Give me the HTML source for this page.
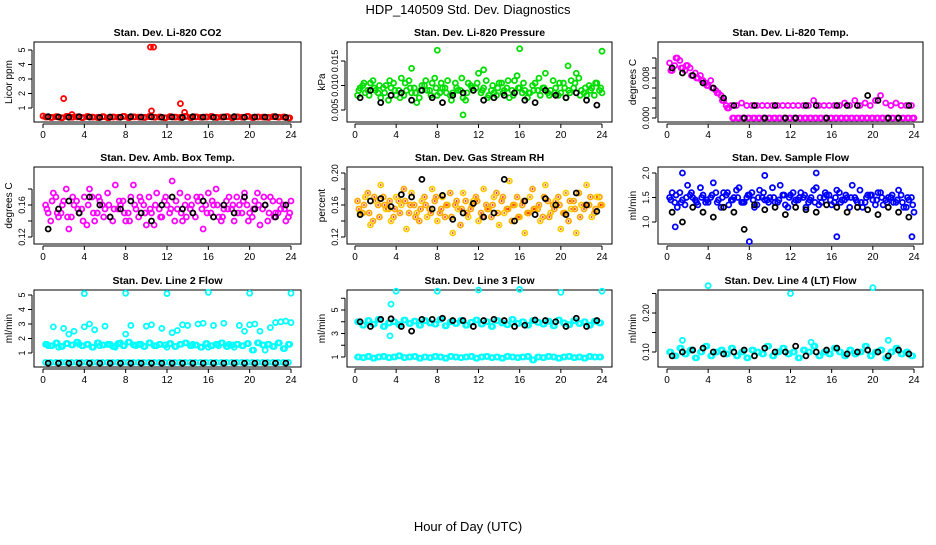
<!DOCTYPE html>
<html><head><meta charset="utf-8"><style>
body{margin:0;background:#fff}
svg text{font-family:"Liberation Sans",Arial,sans-serif}
</style></head><body>
<svg id="chart" width="936" height="540" xmlns="http://www.w3.org/2000/svg">
<rect width="936" height="540" fill="#fff"/>
<text x="468" y="14" font-size="13" text-anchor="middle">HDP_140509  Std. Dev. Diagnostics</text>
<text x="468" y="531" font-size="13" text-anchor="middle">Hour of Day (UTC)</text>
<g id="panels"></g>
</svg>
<script>
// ---- data ----
const xTicks=[0,4,8,12,16,20,24];
const co2Main=[0.38,0.35,0.4,0.33,0.42,0.36,0.39,0.34,0.41,0.37,0.35,0.4,0.33,0.38,0.36,0.42,0.34,0.39,0.37,0.35,0.41,0.36,0.38,0.33,0.4,0.37,0.35,0.42,0.34,0.39,0.36,0.38,0.41,0.35,0.37,0.4,0.33,0.39,0.36,0.42,0.34,0.38,0.37,0.35,0.4,0.36,0.38,0.32];
const co2OutX=[10.4,10.7,2,13.3,10.5,13.7,0,2.8];
const co2OutY=[5.2,5.2,1.65,1.3,0.8,0.7,0.45,0.55];
const co2Black=[0.4,0.38,0.36,0.4,0.37,0.35,0.38,0.36,0.4,0.37,0.39,0.36,0.38,0.35,0.4,0.37,0.36,0.38,0.4,0.36,0.38,0.37,0.4,0.35];
const presA=[0.008,0.010,0.009,0.011,0.0085,0.0095,0.007,0.0105,0.009,0.008,0.011,0.0095,0.0075,0.01,0.009,0.0115,0.0085,0.0095,0.008,0.0105,0.009,0.007,0.01,0.0095,0.0085,0.011,0.009,0.008,0.0105,0.0095,0.009,0.012,0.0085,0.0075,0.01,0.009,0.0095,0.0085,0.011,0.008,0.0105,0.009,0.0095,0.0115,0.0085,0.01,0.008,0.009];
const presB=[0.0095,0.0085,0.0105,0.009,0.0075,0.01,0.0095,0.008,0.0115,0.009,0.0085,0.0065,0.01,0.009,0.0105,0.008,0.0095,0.011,0.0085,0.009,0.0075,0.0105,0.009,0.0125,0.0095,0.008,0.0085,0.0105,0.009,0.0075,0.011,0.0095,0.009,0.0085,0.0105,0.008,0.0125,0.009,0.0095,0.0085,0.0075,0.011,0.0125,0.009,0.008,0.0095,0.0105,0.0085];
const presC=[0.009,0.0105,0.008,0.0095,0.01,0.0085,0.011,0.009,0.0075,0.0105,0.0095,0.0085,0.009,0.011,0.008,0.0095,0.0105,0.0085,0.007,0.0095,0.0115,0.0085,0.0095,0.0105,0.009,0.0075,0.01,0.0095,0.0085,0.011,0.008,0.0095,0.0105,0.0085,0.009,0.0115,0.0095,0.008,0.0085,0.0105,0.0095,0.0085,0.0105,0.008,0.0095,0.009,0.0105,0.0095];
const presOutX=[8,16,24,5.5,12.5,20.7,10.5];
const presOutY=[0.0172,0.0175,0.017,0.0135,0.0132,0.014,0.004];
const presBlack=[0.0075,0.009,0.0065,0.008,0.0085,0.007,0.009,0.0075,0.0065,0.008,0.0085,0.009,0.007,0.0075,0.008,0.0085,0.007,0.0065,0.009,0.008,0.0075,0.0085,0.007,0.006];
const tempA=[0.011,0.0105,0.0115,0.0095,0.01,0.009,0.0085,0.007,0.0075,0.0055,0.0045,0.0025,0.0025,0.0025,0.003,0.0025,0.0025,0.0025,0.0025,0.0025,0.0025,0.0025,0.0025,0.0025,0.0025,0.0025,0.0025,0.0025,0.0035,0.0025,0.0025,0.0025,0.0025,0.0025,0.003,0.0025,0.0035,0.0025,0.003,0.0025,0.0035,0.0045,0.003,0.0025,0.003,0.0025,0.0025,0.0025];
const tempB=[0.0095,0.012,0.01,0.0105,0.0085,0.008,0.0075,0.0065,0.006,0.005,0.0035,0.002,0,0,0,0,0,0,0,0,0,0,0,0,0,0,0,0,0,0,0,0,0,0,0,0,0,0,0,0,0,0,0,0,0,0,0,0];
const tempBlack=[0.01,0.009,0.0085,0.007,0.006,0.004,0.0025,0,0.0025,0,0.0025,0,0,0.0025,0.0025,0,0.0025,0.0025,0.0025,0.0045,0.0035,0,0,0.0025];
const ambA=[0.16,0.14,0.17,0.15,0.18,0.145,0.165,0.155,0.135,0.17,0.15,0.16,0.175,0.14,0.155,0.165,0.15,0.185,0.145,0.16,0.17,0.135,0.155,0.165,0.15,0.14,0.175,0.16,0.155,0.145,0.17,0.16,0.15,0.18,0.14,0.165,0.155,0.17,0.15,0.16,0.145,0.175,0.155,0.14,0.165,0.15,0.16,0.145];
const ambB=[0.15,0.175,0.145,0.165,0.13,0.16,0.15,0.17,0.18,0.14,0.165,0.155,0.145,0.185,0.16,0.14,0.17,0.155,0.165,0.135,0.15,0.175,0.145,0.16,0.19,0.155,0.14,0.17,0.15,0.165,0.13,0.175,0.16,0.145,0.155,0.17,0.14,0.16,0.175,0.15,0.165,0.135,0.16,0.17,0.15,0.155,0.14,0.165];
const ambC=[0.155,0.165,0.15,0.16,0.145,0.17,0.155,0.14,0.16,0.15,0.17,0.145,0.16,0.155,0.165,0.15,0.14,0.16,0.17,0.15,0.155,0.16,0.145,0.17,0.155,0.165,0.15,0.145,0.16,0.17,0.155,0.15,0.165,0.16,0.145,0.155,0.16,0.15,0.165,0.14,0.155,0.16,0.17,0.15,0.145,0.165,0.155,0.15];
const ambBlack=[0.13,0.155,0.165,0.15,0.17,0.16,0.145,0.155,0.165,0.15,0.14,0.16,0.17,0.155,0.15,0.165,0.145,0.16,0.15,0.17,0.155,0.16,0.145,0.16];
const rhA=[0.165,0.15,0.175,0.14,0.16,0.17,0.155,0.145,0.165,0.18,0.15,0.16,0.14,0.17,0.155,0.165,0.15,0.145,0.175,0.16,0.135,0.165,0.155,0.17,0.15,0.16,0.145,0.175,0.165,0.155,0.14,0.17,0.16,0.15,0.18,0.155,0.145,0.165,0.16,0.17,0.15,0.14,0.165,0.175,0.155,0.16,0.15,0.17];
const rhB=[0.15,0.17,0.135,0.165,0.185,0.155,0.14,0.17,0.16,0.13,0.175,0.15,0.165,0.145,0.18,0.14,0.17,0.16,0.125,0.155,0.175,0.145,0.165,0.14,0.18,0.155,0.17,0.135,0.15,0.19,0.16,0.145,0.125,0.17,0.155,0.14,0.185,0.15,0.165,0.13,0.175,0.155,0.125,0.16,0.185,0.145,0.17,0.16];
const rhC=[0.155,0.16,0.15,0.17,0.145,0.16,0.165,0.155,0.15,0.165,0.16,0.145,0.155,0.16,0.15,0.17,0.155,0.16,0.145,0.165,0.155,0.15,0.16,0.165,0.145,0.155,0.16,0.15,0.17,0.155,0.16,0.145,0.165,0.15,0.155,0.16,0.17,0.145,0.155,0.16,0.15,0.165,0.155,0.145,0.16,0.17,0.155,0.16];
const rhBlack=[0.148,0.165,0.168,0.158,0.173,0.17,0.192,0.155,0.172,0.142,0.15,0.162,0.145,0.15,0.192,0.14,0.165,0.148,0.168,0.16,0.148,0.175,0.16,0.152];
const flowA=[1.5,1.4,1.6,1.35,1.55,1.45,1.7,1.4,1.5,1.6,1.3,1.55,1.45,1.65,1.4,1.5,1.6,1.35,1.5,1.45,1.7,1.4,1.55,1.3,1.6,1.45,1.5,1.4,1.65,1.35,1.5,1.55,1.4,1.6,1.45,1.3,1.5,1.65,1.4,1.55,1.35,1.6,1.45,1.5,1.4,1.55,1.3,1.5];
const flowB=[1.6,1.3,1.45,1.75,1.5,1.35,1.55,1.4,1.8,1.45,1.6,1.35,1.5,1.7,1.4,1.55,1.3,1.65,1.45,1.5,1.4,1.75,1.35,1.55,1.45,1.6,1.3,1.5,1.7,1.4,1.55,1.35,1.65,1.45,1.5,1.75,1.4,1.3,1.55,1.45,1.6,1.35,1.5,1.4,1.65,1.3,1.45,1.2];
const flowC=[1.45,1.55,1.4,1.5,1.6,1.4,1.5,1.45,1.55,1.4,1.5,1.6,1.45,1.5,1.4,1.55,1.45,1.5,1.6,1.4,1.5,1.45,1.55,1.5,1.4,1.5,1.55,1.45,1.4,1.5,1.6,1.45,1.5,1.4,1.55,1.5,1.45,1.4,1.5,1.55,1.45,1.5,1.4,1.55,1.45,1.4,1.5,1.35];
const flowOutX=[8,14.5,16.5,1.5,9.5,23.8,0.8];
const flowOutY=[0.6,2.0,0.7,2.0,1.95,0.7,0.9];
const flowBlack=[1.2,1.0,1.3,1.2,1.1,1.3,1.2,0.85,1.35,1.25,1.3,1.15,1.3,1.25,1.2,1.35,1.3,1.2,1.3,1.25,1.15,1.3,1.2,1.1];
const l2A=[1.6,1.5,1.7,1.45,1.65,1.55,1.75,1.5,1.6,1.4,1.7,1.55,1.6,1.45,1.65,1.5,1.75,1.55,1.6,1.45,1.7,1.5,1.6,1.55,1.65,1.45,1.6,1.7,1.5,1.55,1.4,1.65,1.5,1.6,1.7,1.45,1.55,1.6,1.5,1.65,1.2,1.7,1.55,1.6,1.45,1.7,1.3,1.6];
const l2B=[1.5,2.8,1.4,2.7,2.3,2.5,1.6,2.8,3.0,2.6,1.5,2.85,1.6,1.4,1.7,2.3,2.9,1.5,1.6,2.85,2.95,1.5,2.7,1.4,2.4,2.55,2.95,2.9,1.6,3.0,3.05,1.4,2.9,1.5,3.05,1.6,1.4,2.9,2.5,2.95,3.0,2.5,1.2,2.75,3.1,3.15,3.2,3.1];
const l2Low=[0.35,0.35,0.35,0.35,0.35,0.35,0.35,0.35,0.35,0.35,0.35,0.35,0.35,0.35,0.35,0.35,0.35,0.35,0.35,0.35,0.35,0.35,0.35,0.35,0.35,0.35,0.35,0.35,0.35,0.35,0.35,0.35,0.35,0.35,0.35,0.35,0.35,0.35,0.35,0.35,0.35,0.35,0.35,0.35,0.35,0.35,0.35,0.35];
const l2OutX=[4,8,12,16,20,24];
const l2OutY=[5.1,5.12,5.1,5.18,5.12,5.12];
const l2Black=[0.3,0.3,0.3,0.3,0.3,0.3,0.3,0.3,0.3,0.3,0.3,0.3,0.3,0.3,0.3,0.3,0.3,0.3,0.3,0.3,0.3,0.3,0.3,0.3];
const l3A=[4.0,3.7,4.1,3.8,4.2,3.6,3.9,4.0,3.75,4.15,3.85,4.05,3.7,4.1,3.9,3.8,4.2,3.65,4.0,3.85,4.1,3.7,3.95,4.15,3.8,4.0,3.6,4.1,3.9,3.75,4.2,3.85,4.0,3.7,4.1,3.95,3.8,4.05,3.65,4.15,3.9,3.75,4.1,3.85,4.0,3.7,4.05,3.9];
const l3B=[1.0,0.95,1.05,0.9,1.0,1.05,0.95,1.0,1.1,0.95,1.0,1.05,0.9,1.0,0.95,1.05,1.0,0.9,1.05,1.0,0.95,1.0,1.05,0.9,1.0,1.05,0.95,1.0,0.9,1.05,1.0,0.95,1.0,1.05,0.75,1.0,0.95,1.05,1.0,0.9,1.0,1.05,0.95,1.0,0.9,1.05,1.0,1.0];
const l3OutX=[4,8,12,16,20,24,3.5,3.4];
const l3OutY=[6.6,6.6,6.7,6.75,6.5,6.6,5.5,2.8];
const l3Black=[4.0,3.6,4.2,4.25,3.6,3.2,4.2,4.2,4.3,4.1,4.1,3.6,4.1,4.2,4.1,3.6,3.7,4.15,4.1,4.0,3.6,4.3,3.6,4.1];
const l4A=[0.1,0.09,0.11,0.095,0.105,0.085,0.1,0.115,0.09,0.1,0.105,0.095,0.11,0.09,0.1,0.085,0.105,0.1,0.095,0.115,0.09,0.1,0.11,0.095,0.1,0.085,0.105,0.1,0.115,0.09,0.1,0.095,0.11,0.1,0.09,0.105,0.095,0.1,0.115,0.09,0.1,0.105,0.085,0.1,0.11,0.095,0.1,0.09];
const l4OutX=[4,12,20,1.5,14,21.5];
const l4OutY=[0.27,0.25,0.265,0.13,0.125,0.13];
const l4Black=[0.09,0.1,0.105,0.11,0.1,0.095,0.1,0.105,0.09,0.11,0.1,0.1,0.115,0.09,0.1,0.105,0.11,0.095,0.1,0.105,0.1,0.09,0.105,0.095];

// ---- layout ----
const NS="http://www.w3.org/2000/svg";
const g=document.getElementById('panels');
const cols=[{l:34,r:301,x0:43,x24:291},{l:347,r:612,x0:355,x24:602},{l:658,r:923,x0:667,x24:914}];
const rows=[{t:42,b:122},{t:167,b:244},{t:290,b:367}];
function mk(tag,attrs,parent){const e=document.createElementNS(NS,tag);for(const k in attrs)e.setAttribute(k,attrs[k]);(parent||g).appendChild(e);return e;}
const gridX=Array.from({length:48},(_,i)=>0.25+i*0.5);
const gridX3=Array.from({length:48},(_,i)=>0.375+i*0.5);
const blackX=Array.from({length:24},(_,i)=>0.5+i);

function panel(o){
  const c=cols[o.col],r=rows[o.row];
  const pg=mk('g',{});
  
  
  const xs=h=>c.x0+(c.x24-c.x0)*h/24;
  const ys=v=>o.p1+(o.p2-o.p1)*(v-o.v1)/(o.v2-o.v1);
  const box=mk('rect',{x:c.l,y:r.t,width:c.r-c.l,height:r.b-r.t,fill:'none',stroke:'#000','stroke-width':1},pg);
  
  
  const t=mk('text',{x:(c.l+c.r)/2,y:r.t-6,'font-size':10.5,'font-weight':'bold','text-anchor':'middle'},pg);
  t.textContent=o.title;
  
  
  const ax=mk('line',{x1:xs(0),x2:xs(24),y1:r.b+2,y2:r.b+2,stroke:'#000'},pg);
  
  
  xTicks.forEach(h=>{
    mk('line',{x1:xs(h),x2:xs(h),y1:r.b+2,y2:r.b+6,stroke:'#000'},pg);
    const tx=mk('text',{x:xs(h),y:r.b+16,'font-size':10,'text-anchor':'middle'},pg);
    tx.textContent=h;
    
    
  });
  const ay=mk('line',{x1:c.l-2,x2:c.l-2,y1:ys(o.ticks[0]),y2:ys(o.ticks[o.ticks.length-1]),stroke:'#000'},pg);
  
  
  o.ticks.forEach((v,i)=>{
    mk('line',{x1:c.l-6,x2:c.l-2,y1:ys(v),y2:ys(v),stroke:'#000'},pg);
    if(o.labels[i]!==''){
      const ty=mk('text',{x:c.l-9,y:ys(v),'font-size':9,'text-anchor':'middle',transform:`rotate(-90 ${c.l-9} ${ys(v)})`},pg);
      ty.textContent=o.labels[i];
      
      
    }
  });
  const yl=mk('text',{x:c.l-22,y:(r.t+r.b)/2,'font-size':10,'text-anchor':'middle',transform:`rotate(-90 ${c.l-22} ${(r.t+r.b)/2})`},pg);
  yl.textContent=o.ylab;
  
  
  o.series.forEach(s=>{
    s.y.forEach((v,i)=>{
      const x=s.x[i];
      const cx=xs(x),cy=ys(v);
      const p=mk('circle',{cx:cx,cy:cy,r:2.5,fill:'none',stroke:s.color,'stroke-width':1.8},pg);
      
      
      if(s.dot){mk('circle',{cx:cx,cy:cy,r:0.9,fill:s.dot},pg);}
    });
  });
}
const sh=a=>a.map((_,i)=>0.5+i*0.5);

panel({name:'panel-co2',col:0,row:0,title:'Stan. Dev. Li-820 CO2',ylab:'Licor ppm',v1:1,p1:108,v2:5,p2:50,ticks:[1,2,3,4,5],labels:['1','2','3','4','5'],
  series:[{x:gridX,y:co2Main,color:'#ff0000'},{x:gridX3,y:co2Main,color:'#ff0000'},{x:co2OutX,y:co2OutY,color:'#ff0000'},{x:blackX,y:co2Black,color:'#000'}]});
panel({name:'panel-pressure',col:1,row:0,title:'Stan. Dev. Li-820 Pressure',ylab:'kPa',v1:0.005,p1:110,v2:0.015,p2:61,ticks:[0.005,0.010,0.015],labels:['0.005','0.010','0.015'],
  series:[{x:gridX,y:presA,color:'#00dd00'},{x:sh(presB),y:presB,color:'#00dd00'},{x:gridX3,y:presC,color:'#00dd00'},{x:presOutX,y:presOutY,color:'#00dd00'},{x:blackX,y:presBlack,color:'#000'}]});
panel({name:'panel-li820-temp',col:2,row:0,title:'Stan. Dev. Li-820 Temp.',ylab:'degrees C',v1:0,p1:118,v2:0.008,p2:78,ticks:[0,0.002,0.004,0.006,0.008,0.010,0.012],labels:['0.000','','','','0.008','',''],
  series:[{x:gridX,y:tempA,color:'#ff00ff'},{x:sh(tempB),y:tempB,color:'#ff00ff'},{x:gridX3,y:tempB,color:'#ff00ff'},{x:blackX,y:tempBlack,color:'#000'}]});
panel({name:'panel-amb-box-temp',col:0,row:1,title:'Stan. Dev. Amb. Box Temp.',ylab:'degrees C',v1:0.12,p1:237,v2:0.20,p2:173,ticks:[0.12,0.14,0.16,0.18],labels:['0.12','','0.16',''],
  series:[{x:gridX,y:ambA,color:'#ff00ff'},{x:sh(ambB),y:ambB,color:'#ff00ff'},{x:gridX3,y:ambC,color:'#ff00ff'},{x:blackX,y:ambBlack,color:'#000'}]});
panel({name:'panel-gas-stream-rh',col:1,row:1,title:'Stan. Dev. Gas Stream RH',ylab:'percent',v1:0.12,p1:237,v2:0.20,p2:173,ticks:[0.12,0.14,0.16,0.18,0.20],labels:['0.12','','0.16','','0.20'],
  series:[{x:gridX,y:rhA,color:'#ffaa00',dot:'#ff0000'},{x:sh(rhB),y:rhB,color:'#ffcc00',dot:'#ff3300'},{x:gridX3,y:rhC,color:'#ffaa00',dot:'#ff0000'},{x:blackX,y:rhBlack,color:'#000'}]});
panel({name:'panel-sample-flow',col:2,row:1,title:'Stan. Dev. Sample Flow',ylab:'ml/min',v1:1.0,p1:222,v2:2.0,p2:173,ticks:[1.0,1.5,2.0],labels:['1.0','1.5','2.0'],
  series:[{x:gridX,y:flowA,color:'#0000ff'},{x:sh(flowB),y:flowB,color:'#0000ff'},{x:gridX3,y:flowC,color:'#0000ff'},{x:flowOutX,y:flowOutY,color:'#0000ff'},{x:blackX,y:flowBlack,color:'#000'}]});
panel({name:'panel-line2-flow',col:0,row:2,title:'Stan. Dev. Line 2 Flow',ylab:'ml/min',v1:1,p1:353,v2:5,p2:295,ticks:[1,2,3,4,5],labels:['1','2','3','4','5'],
  series:[{x:gridX,y:l2A,color:'#00ffff'},{x:gridX3,y:l2A,color:'#00ffff'},{x:sh(l2B),y:l2B,color:'#00ffff'},{x:gridX,y:l2Low,color:'#00ffff'},{x:l2OutX,y:l2OutY,color:'#00ffff'},{x:blackX,y:l2Black,color:'#000'}]});
panel({name:'panel-line3-flow',col:1,row:2,title:'Stan. Dev. Line 3 Flow',ylab:'ml/min',v1:1,p1:357,v2:5,p2:310,ticks:[1,2,3,4,5,6],labels:['1','','3','','5',''],
  series:[{x:gridX,y:l3A,color:'#00ffff'},{x:gridX3,y:l3A,color:'#00ffff'},{x:gridX,y:l3B,color:'#00ffff'},{x:gridX3,y:l3B,color:'#00ffff'},{x:l3OutX,y:l3OutY,color:'#00ffff'},{x:blackX,y:l3Black,color:'#000'}]});
panel({name:'panel-line4-flow',col:2,row:2,title:'Stan. Dev. Line 4 (LT) Flow',ylab:'ml/min',v1:0.10,p1:352,v2:0.20,p2:313,ticks:[0.10,0.15,0.20,0.25],labels:['0.10','','0.20',''],
  series:[{x:gridX,y:l4A,color:'#00ffff'},{x:gridX3,y:l4A,color:'#00ffff'},{x:l4OutX,y:l4OutY,color:'#00ffff'},{x:blackX,y:l4Black,color:'#000'}]});
</script>
</body></html>
